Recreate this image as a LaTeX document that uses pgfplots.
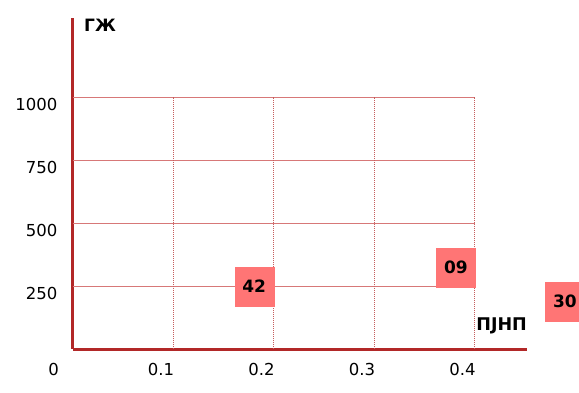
\documentclass[border=0pt]{standalone}
\usepackage{pgfplots}
\pgfplotsset{compat=1.18}
\usepackage{fontspec}
\setmainfont{DejaVu Sans}
\definecolor{axred}{RGB}{178,40,40}
\definecolor{gridred}{RGB}{215,120,120}
\definecolor{boxred}{RGB}{255,117,117}
\begin{document}
\begin{tikzpicture}
\path[use as bounding box] (0,0) rectangle (579pt,393pt);
\begin{axis}[
  at={(72.5pt,43.8pt)}, anchor=south west,
  scale only axis, width=454.5pt, height=331pt,
  xmin=0, xmax=0.4522, ymin=0, ymax=1313,
  axis x line=bottom, axis y line=left,
  axis line style={-, axred, line width=3pt},
  xtick={0.1,0.2,0.3,0.4}, ytick={250,500,750,1000},
  major tick length=0pt, tick style={draw=none},
  scaled ticks=false,
  /pgf/number format/1000 sep={},
  /pgf/number format/assume math mode=true,
  ticklabel style={font=\fontsize{16.5}{19}\selectfont, inner sep=0pt},
  xticklabel style={anchor=north, xshift=-12pt, yshift=-14pt},
  yticklabel style={anchor=east, xshift=-15pt, yshift=-7pt},
  clip=false,
]
\foreach \yy in {250,500,750,1000}{
  \edef\tmp{\noexpand\draw[gridred, line width=1pt] (axis cs:0,\yy) -- (axis cs:0.4,\yy);}\tmp
}
\foreach \xx in {0.1,0.2,0.3,0.4}{
  \edef\tmp{\noexpand\draw[axred!75, line width=1pt, dash pattern=on 1pt off 1pt] (axis cs:\xx,0) -- (axis cs:\xx,1000);}\tmp
}
\addplot[boxred, only marks, mark=square*, mark size=19.5pt,
  mark options={draw=none, fill=boxred},
  nodes near coords, point meta=explicit symbolic,
  nodes near coords align=center,
  every node near coord/.append style={font=\bfseries\fontsize{17}{20}\selectfont, anchor=center, text=black}]
  coordinates {(0.1808,249) [42] (0.3814,325) [09] (0.4899,190) [30]};
\end{axis}
\node[anchor=east, inner sep=0pt, font=\fontsize{16.5}{19}\selectfont] at (59pt,23.5pt) {0};
\node[anchor=north west, inner sep=0pt, font=\bfseries\fontsize{17}{20}\selectfont] at (84pt,374pt) {ГЖ};
\node[anchor=base east, inner sep=0pt, font=\bfseries\fontsize{17.5}{20}\selectfont] at (527pt,62pt) {ПЈНП};
\end{tikzpicture}
\end{document}
